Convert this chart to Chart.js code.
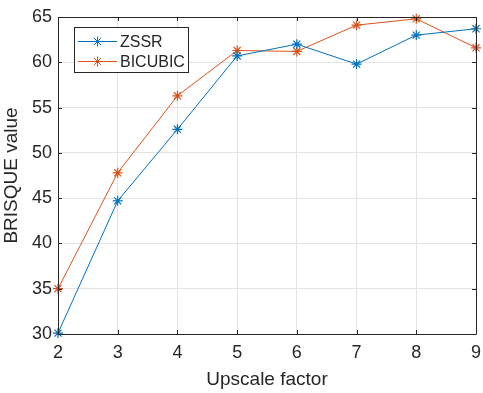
<!DOCTYPE html>
<html>
<head>
<meta charset="utf-8">
<script src="https://cdn.jsdelivr.net/npm/chart.js@4"></script>
<style>
html,body{margin:0;padding:0;background:#fff;}
#wrap{width:483px;height:393px;position:relative;}
</style>
</head>
<body>
<div id="wrap"><canvas id="c" width="483" height="393"></canvas></div>
<script>
const upscaleFactors = [2, 3, 4, 5, 6, 7, 8, 9];
const zssrValues = [30.1, 44.7, 52.6, 60.7, 62.0, 59.8, 63.0, 63.7];
const bicubicValues = [35.0, 47.8, 56.3, 61.3, 61.2, 64.1, 64.8, 61.6];
const seriesNames = ['ZSSR', 'BICUBIC'];
const yTicks = [30, 35, 40, 45, 50, 55, 60, 65];

const FONT = '"Liberation Sans", Arial, Helvetica, sans-serif';
const AXIS = '#262626';
const BLUE = '#0072BD';
const ORANGE = '#D95319';

const framePlugin = {
  id: 'frame',
  afterDatasetsDraw(chart) {
    const ctx = chart.ctx, a = chart.chartArea;
    const xs = chart.scales.x, ys = chart.scales.y;
    ctx.save();
    ctx.strokeStyle = AXIS;
    ctx.lineWidth = 1;
    ctx.beginPath();
    upscaleFactors.forEach(v => {
      const px = Math.round(xs.getPixelForValue(v)) + 0.5;
      ctx.moveTo(px, a.bottom); ctx.lineTo(px, a.bottom - 4);
      ctx.moveTo(px, a.top); ctx.lineTo(px, a.top + 4);
    });
    yTicks.forEach(v => {
      const py = Math.round(ys.getPixelForValue(v)) + 0.5;
      ctx.moveTo(a.left, py); ctx.lineTo(a.left + 4, py);
      ctx.moveTo(a.right, py); ctx.lineTo(a.right - 4, py);
    });
    ctx.stroke();
    ctx.beginPath();
    ctx.rect(Math.round(a.left) + 0.5, Math.round(a.top) + 0.5, Math.round(a.right - a.left), Math.round(a.bottom - a.top));
    ctx.stroke();

    // legend
    const lx = 74.5, ly = 27.5, lw = 114, lh = 45;
    ctx.fillStyle = '#fff';
    ctx.fillRect(lx, ly, lw, lh);
    ctx.strokeStyle = AXIS;
    ctx.strokeRect(lx, ly, lw, lh);
    const rows = [41, 61];
    chart.data.datasets.forEach((ds, i) => {
      const y = rows[i] + 0.5;
      ctx.strokeStyle = ds.borderColor;
      ctx.lineWidth = 1;
      ctx.beginPath();
      ctx.moveTo(78, y); ctx.lineTo(117, y);
      ctx.stroke();
      Chart.helpers.drawPoint(ctx, {pointStyle: 'star', radius: 5, borderWidth: 1}, 97.5, y);
      ctx.fillStyle = AXIS;
      ctx.font = '16px ' + FONT;
      ctx.textBaseline = 'middle';
      ctx.textAlign = 'left';
      ctx.fillText(ds.label, 120, y + 1);
    });
    ctx.restore();
  }
};

new Chart(document.getElementById('c'), {
  type: 'line',
  data: {
    labels: upscaleFactors,
    datasets: [
      {label: seriesNames[0], data: upscaleFactors.map((x, i) => ({x, y: zssrValues[i]})),
       borderColor: BLUE, backgroundColor: BLUE, borderWidth: 1, pointStyle: 'star',
       pointRadius: 5, pointBorderWidth: 1.2, tension: 0, clip: false},
      {label: seriesNames[1], data: upscaleFactors.map((x, i) => ({x, y: bicubicValues[i]})),
       borderColor: ORANGE, backgroundColor: ORANGE, borderWidth: 1, pointStyle: 'star',
       pointRadius: 5, pointBorderWidth: 1.2, tension: 0, clip: false}
    ]
  },
  options: {
    responsive: false,
    animation: false,
    devicePixelRatio: 1,
    layout: {padding: {left: 0, right: 7, top: 17, bottom: 0}},
    plugins: {legend: {display: false}, tooltip: {enabled: false}},
    scales: {
      x: {
        type: 'linear', min: 2, max: 9,
        afterBuildTicks: s => { s.ticks = upscaleFactors.map(v => ({value: v})); },
        grid: {color: '#e3e3e3', drawTicks: false, lineWidth: 1},
        border: {display: false},
        ticks: {color: AXIS, font: {family: FONT, size: 18}, padding: 8},
        title: {display: true, text: 'Upscale factor', color: AXIS, font: {family: FONT, size: 19}, padding: {top: 2, bottom: 2}},
        afterFit: s => { s.height = 59; s.paddingLeft = 0; s.paddingRight = 0; }
      },
      y: {
        type: 'linear', min: 30, max: 65,
        afterBuildTicks: s => { s.ticks = yTicks.map(v => ({value: v})); },
        grid: {color: '#e3e3e3', drawTicks: false, lineWidth: 1},
        border: {display: false},
        ticks: {color: AXIS, font: {family: FONT, size: 18}, padding: 6},
        title: {display: true, text: 'BRISQUE value', color: AXIS, font: {family: FONT, size: 19}, padding: {top: 0, bottom: 3}},
        afterFit: s => { s.width = 58; s.paddingTop = 0; s.paddingBottom = 0; }
      }
    }
  },
  plugins: [framePlugin]
});
</script>
</body>
</html>
